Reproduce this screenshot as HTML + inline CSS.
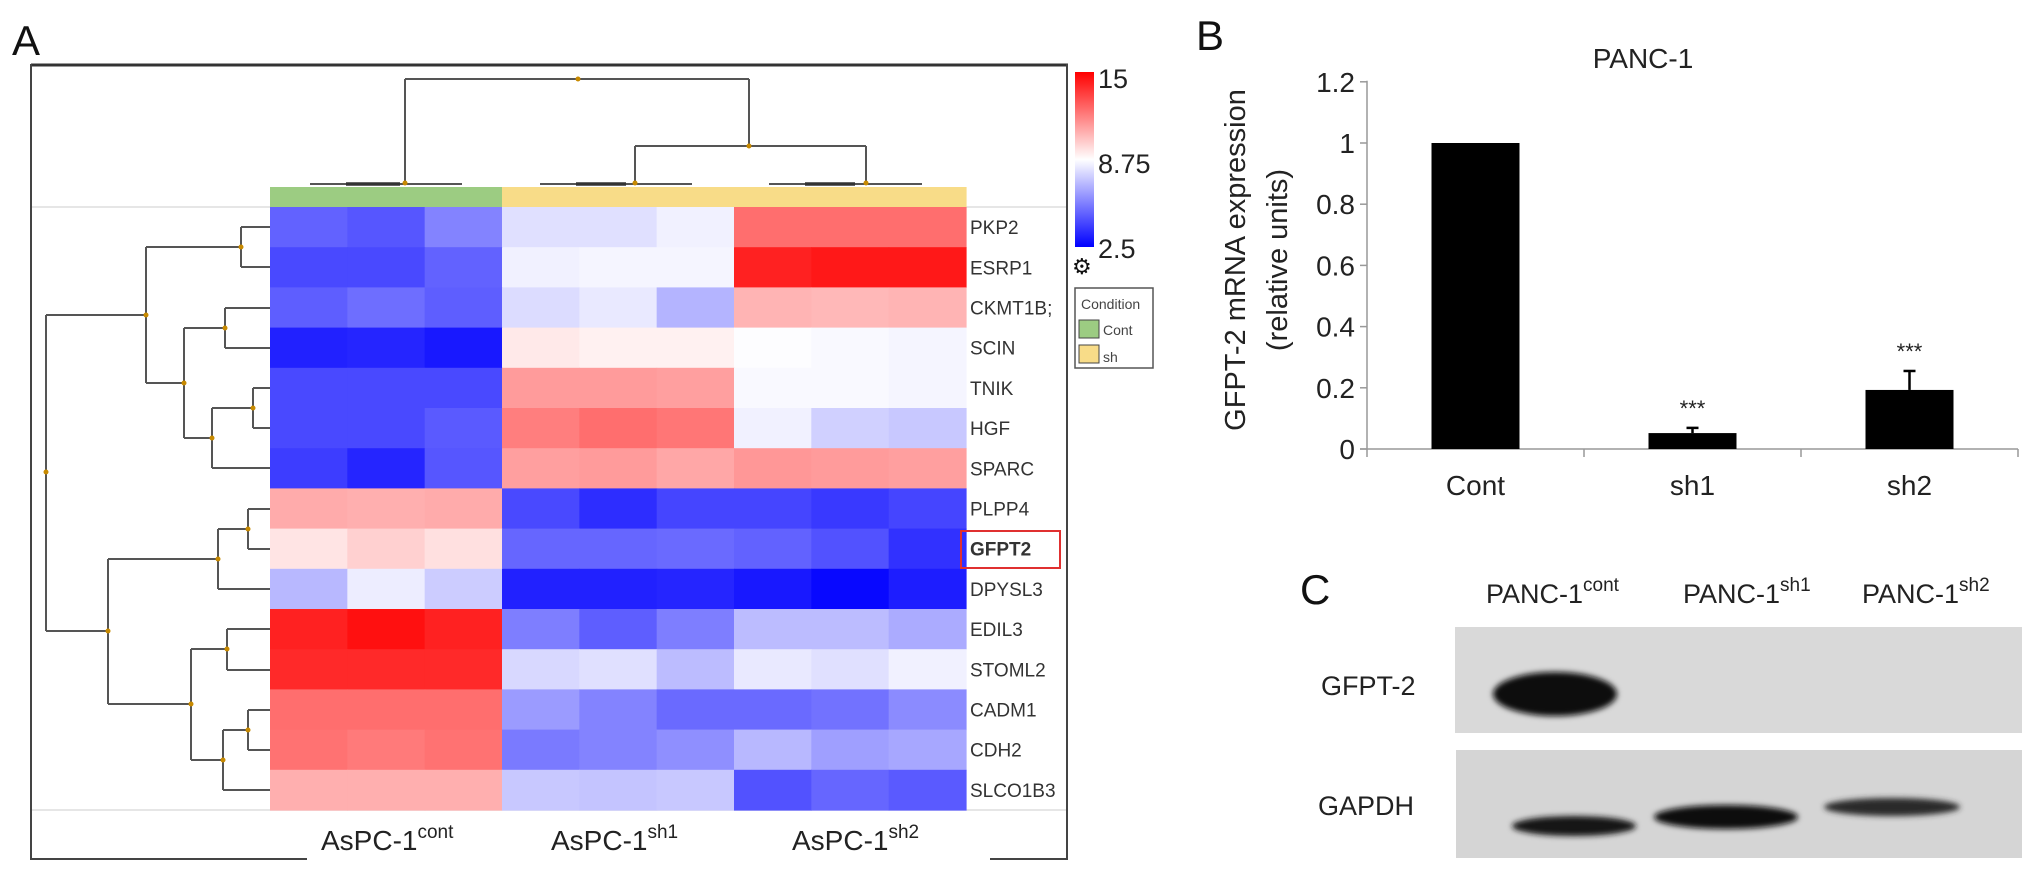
<!DOCTYPE html>
<html><head><meta charset="utf-8"><style>
html,body{margin:0;padding:0;background:#fff}
svg{display:block;font-family:"Liberation Sans",Arial,sans-serif}
</style></head><body>
<svg id="fig" width="2032" height="873" viewBox="0 0 2032 873" xmlns="http://www.w3.org/2000/svg">
<defs>
<linearGradient id="cbar" x1="0" y1="1" x2="0" y2="0">
<stop offset="0" stop-color="#0000ff"/><stop offset="0.5" stop-color="#ffffff"/><stop offset="1" stop-color="#ff0000"/>
</linearGradient>
<filter id="blur3"><feGaussianBlur stdDeviation="3"/></filter>
<filter id="blur2"><feGaussianBlur stdDeviation="2"/></filter>
</defs>
<text x="12" y="55" font-size="42" fill="#111">A</text>
<text x="1196" y="50" font-size="42" fill="#111">B</text>
<text x="1300" y="604" font-size="42" fill="#111">C</text>
<g id="frame">
<line x1="31" y1="65" x2="1068" y2="65" stroke="#333" stroke-width="3"/>
<line x1="31" y1="64" x2="31" y2="860" stroke="#444" stroke-width="2"/>
<line x1="1067" y1="64" x2="1067" y2="860" stroke="#444" stroke-width="2"/>
<line x1="31" y1="859" x2="307" y2="859" stroke="#444" stroke-width="2"/>
<line x1="990" y1="859" x2="1068" y2="859" stroke="#444" stroke-width="2"/>
<line x1="32" y1="207" x2="1066" y2="207" stroke="#ddd" stroke-width="1.5"/>
<line x1="32" y1="810" x2="1066" y2="810" stroke="#ddd" stroke-width="1.5"/>
</g>
<g id="heat"></g>
<g id="dendro"></g>
<g id="rowlabels"></g>
<rect x="961" y="531" width="99" height="37" fill="none" stroke="#e03030" stroke-width="2"/>
<g font-size="28" fill="#222">
<text x="321" y="850">AsPC-1<tspan font-size="19" dy="-12">cont</tspan></text>
<text x="551" y="850">AsPC-1<tspan font-size="19" dy="-12">sh1</tspan></text>
<text x="792" y="850">AsPC-1<tspan font-size="19" dy="-12">sh2</tspan></text>
</g>
<g>
<rect x="1075" y="72" width="19" height="175" fill="url(#cbar)"/>
<text x="1098" y="88" font-size="27" fill="#222">15</text>
<text x="1098" y="173" font-size="27" fill="#222">8.75</text>
<text x="1098" y="258" font-size="27" fill="#222">2.5</text>
<text x="1072" y="274" font-size="22" fill="#111">⚙</text>
</g>
<g>
<rect x="1075" y="288" width="78" height="80" fill="#fff" stroke="#555" stroke-width="1.5"/>
<text x="1081" y="309" font-size="14" fill="#444">Condition</text>
<rect x="1079" y="320" width="20" height="18" fill="#9ccc82" stroke="#444"/>
<text x="1103" y="335" font-size="14" fill="#444">Cont</text>
<rect x="1079" y="345" width="20" height="18" fill="#f8dc88" stroke="#444"/>
<text x="1103" y="362" font-size="14" fill="#444">sh</text>
</g>
<g id="bar"></g>
<g id="blot">
<text x="1486" y="603" font-size="27" fill="#222">PANC-1<tspan font-size="19" dy="-12">cont</tspan></text>
<text x="1683" y="603" font-size="27" fill="#222">PANC-1<tspan font-size="19" dy="-12">sh1</tspan></text>
<text x="1862" y="603" font-size="27" fill="#222">PANC-1<tspan font-size="19" dy="-12">sh2</tspan></text>
<text x="1321" y="695" font-size="27" fill="#222">GFPT-2</text>
<text x="1318" y="815" font-size="27" fill="#222">GAPDH</text>
<rect x="1455" y="627" width="567" height="106" fill="#d9d9d9"/>
<rect x="1456" y="750" width="566" height="108" fill="#d5d5d5"/>
<g filter="url(#blur3)">
<ellipse cx="1555" cy="694" rx="62" ry="22" fill="#0a0a0a"/>
<ellipse cx="1574" cy="826" rx="62" ry="10" fill="#151515"/>
<ellipse cx="1726" cy="817" rx="72" ry="12" fill="#0d0d0d"/>
<ellipse cx="1892" cy="807" rx="68" ry="9" fill="#2a2a2a"/>
</g>
</g>
</svg>
<script>
// ---------------- Heatmap data ----------------
const rowNames = ["PKP2","ESRP1","CKMT1B;","SCIN","TNIK","HGF","SPARC","PLPP4","GFPT2","DPYSL3","EDIL3","STOML2","CADM1","CDH2","SLCO1B3"];
const colGroups = ["cont","cont","cont","sh1","sh1","sh1","sh2","sh2","sh2"];
const heatValues = [
[4.9,4.6,5.7,8.0,8.0,8.4,12.3,12.3,12.3],
[4.3,4.3,4.9,8.4,8.5,8.5,14.2,14.4,14.4],
[4.8,5.2,4.8,7.9,8.2,6.9,10.6,10.5,10.6],
[3.3,3.4,3.1,9.3,9.1,9.1,8.7,8.6,8.5],
[4.3,4.3,4.3,11.2,11.2,11.1,8.6,8.6,8.5],
[4.3,4.3,4.7,11.9,12.3,12.1,8.4,7.6,7.4],
[4.0,3.4,4.6,11.1,11.2,10.9,11.3,11.2,11.1],
[10.8,10.7,10.8,4.3,3.6,4.2,4.2,3.9,4.2],
[9.4,9.9,9.5,5.0,5.0,5.1,4.9,4.5,3.7],
[7.0,8.3,7.5,3.3,3.3,3.4,3.1,2.7,3.2],
[14.2,14.6,14.2,5.6,4.8,5.6,7.1,7.1,6.7],
[14.0,14.0,14.0,7.8,8.0,7.1,8.2,8.0,8.4],
[12.3,12.3,12.3,6.3,5.7,5.1,5.1,5.3,5.9],
[12.2,12.0,12.2,5.5,5.7,6.0,7.0,6.4,6.6],
[10.7,10.7,10.7,7.4,7.3,7.4,4.5,5.0,4.7]
];
const scaleMin = 2.5, scaleMid = 8.75, scaleMax = 15;
// ---------------- Bar chart data ----------------
const barCats = ["Cont","sh1","sh2"];
const barValues = [1.0, 0.052, 0.193];
const barErrors = [0, 0.017, 0.062];
const barStars = ["", "***", "***"];
const yTicks = [0, 0.2, 0.4, 0.6, 0.8, 1, 1.2];
const yTickLabels = ["0","0.2","0.4","0.6","0.8","1","1.2"];

const NS = "http://www.w3.org/2000/svg";
function mk(tag, attrs, parent){const e=document.createElementNS(NS,tag);for(const k in attrs)e.setAttribute(k,attrs[k]);parent.appendChild(e);return e;}

const hx0=270, hx1=966, hy0=207, hy1=810;
const cw=(hx1-hx0)/colGroups.length, rh=(hy1-hy0)/rowNames.length;
function colorFor(v){
  let r,g,b;
  if(v<scaleMid){const t=Math.min(1,(scaleMid-v)/(scaleMid-scaleMin));r=g=Math.round(255*(1-t));b=255;}
  else{const t=Math.min(1,(v-scaleMid)/(scaleMax-scaleMid));r=255;g=b=Math.round(255*(1-t));}
  return `rgb(${r},${g},${b})`;
}
const heat=document.getElementById('heat');
colGroups.forEach((grp,j)=>{
  const a=mk('rect',{x:hx0+j*cw,y:187,width:cw+0.6,height:20,fill:grp==='cont'?'#9ccc82':'#f8dc88'},heat);
  
  
});
heatValues.forEach((row,i)=>{
  row.forEach((v,j)=>{
    const c=mk('rect',{x:hx0+j*cw,y:hy0+i*rh,width:cw+0.6,height:rh+0.6,fill:colorFor(v)},heat);
    
    
  });
});
const rl=document.getElementById('rowlabels');
rowNames.forEach((n,i)=>{
  const t=mk('text',{x:970,y:hy0+(i+0.5)*rh+7,'font-size':19,fill:'#333','font-weight':n==='GFPT2'?'bold':'normal'},rl);
  t.textContent=n;
  
  
});

const dg=document.getElementById('dendro');
const segs=[
 [405,79,749,79],[405,79,405,183],[749,79,749,146],[635,146,866,146],[635,146,635,183],[866,146,866,183],
 [310,184,462,184],[540,184,692,184],[769,184,922,184],
 [241,227,270,227],[241,267,270,267],[241,227,241,267],
 [225,308,270,308],[225,348,270,348],[225,308,225,348],
 [253,388,270,388],[253,428,270,428],[253,388,253,428],
 [212,408,253,408],[212,468,270,468],[212,408,212,468],
 [184,328,225,328],[184,438,212,438],[184,328,184,438],
 [146,247,241,247],[146,383,184,383],[146,247,146,383],
 [248,509,270,509],[248,549,270,549],[248,509,248,549],
 [218,529,248,529],[218,589,270,589],[218,529,218,589],
 [227,629,270,629],[227,670,270,670],[227,629,227,670],
 [248,710,270,710],[248,750,270,750],[248,710,248,750],
 [223,730,248,730],[223,790,270,790],[223,730,223,790],
 [191,649,227,649],[191,760,223,760],[191,649,191,760],
 [108,559,218,559],[108,704,191,704],[108,559,108,704],
 [46,315,146,315],[46,631,108,631],[46,315,46,631]
];
segs.forEach(s=>{const l=mk('line',{x1:s[0],y1:s[1],x2:s[2],y2:s[3],stroke:'#555','stroke-width':2},dg);
  
  });
[[346,184,400,184],[576,184,626,184],[805,184,855,184]].forEach(s=>{const l=mk('line',{x1:s[0],y1:s[1],x2:s[2],y2:s[3],stroke:'#333','stroke-width':3.5},dg);
  
  });
const nodes=[[578,79],[749,146],[405,183],[635,183],[866,183],[241,247],[225,328],[253,408],[212,438],[184,383],[146,315],[248,529],[218,559],[227,649],[248,730],[223,760],[191,704],[108,631],[46,472]];
nodes.forEach(p=>{const c=mk('circle',{cx:p[0],cy:p[1],r:2.5,fill:'#c88a00'},dg);
  
  });

const bar=document.getElementById('bar');
const ax0=1367, ax1=2018, y0px=449, pxPerUnit=306;
const yS=v=>y0px-v*pxPerUnit;
const catW=(ax1-ax0)/barCats.length;
const xC=i=>ax0+catW*(i+0.5);
const axis=mk('g',{},bar);


mk('line',{x1:ax0,y1:yS(1.2)-1,x2:ax0,y2:y0px,stroke:'#999','stroke-width':1.5},axis);
yTicks.forEach((v,i)=>{
  mk('line',{x1:ax0-7,y1:yS(v),x2:ax0,y2:yS(v),stroke:'#999','stroke-width':1.5},axis);
  const t=mk('text',{x:ax0-12,y:yS(v)+10,'font-size':28,'text-anchor':'end',fill:'#222'},axis);
  t.textContent=yTickLabels[i];
  
  
});
const xa=mk('g',{},bar);


mk('line',{x1:ax0-7,y1:y0px,x2:ax1,y2:y0px,stroke:'#999','stroke-width':1.5},xa);
for(let i=0;i<=barCats.length;i++){mk('line',{x1:ax0+catW*i,y1:y0px,x2:ax0+catW*i,y2:y0px+8,stroke:'#999','stroke-width':1.5},xa);}
barCats.forEach((c,i)=>{
  const bw=88;
  if(barErrors[i]>0){
    const e=mk('line',{x1:xC(i),y1:yS(barValues[i]+barErrors[i]),x2:xC(i),y2:yS(barValues[i]),stroke:'#000','stroke-width':2.5},bar);
    
    
    mk('line',{x1:xC(i)-6,y1:yS(barValues[i]+barErrors[i]),x2:xC(i)+6,y2:yS(barValues[i]+barErrors[i]),stroke:'#000','stroke-width':2.5},bar);
  }
  const r=mk('rect',{x:xC(i)-bw/2,y:yS(barValues[i]),width:bw,height:y0px-yS(barValues[i]),fill:'#000'},bar);
  
  
  const t=mk('text',{x:xC(i),y:y0px+46,'font-size':28,'text-anchor':'middle',fill:'#222'},bar);
  t.textContent=c;
  
  
  if(barStars[i]){
    const s=mk('text',{x:xC(i),y:yS(barValues[i]+barErrors[i])-12,'font-size':22,'text-anchor':'middle',fill:'#222'},bar);
    s.textContent=barStars[i];
    
    
  }
});
const title=mk('text',{x:1643,y:68,'font-size':28,'text-anchor':'middle',fill:'#222'},bar);
title.textContent='PANC-1';


const yt=mk('text',{x:0,y:0,'font-size':29,'text-anchor':'middle',fill:'#222',transform:'translate(1245,260) rotate(-90)'},bar);
yt.textContent='GFPT-2 mRNA expression';


const yt2=mk('text',{x:0,y:0,'font-size':29,'text-anchor':'middle',fill:'#222',transform:'translate(1287,260) rotate(-90)'},bar);
yt2.textContent='(relative units)';


</script>
</body></html>
